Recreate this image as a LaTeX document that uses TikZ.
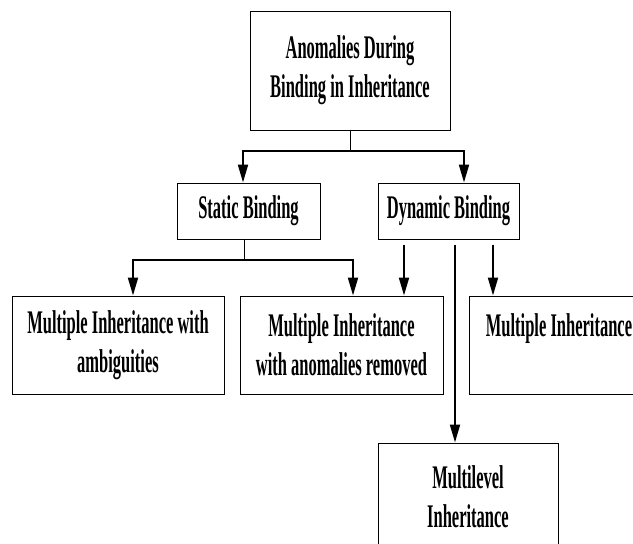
\documentclass[tikz,border=0pt]{standalone}
\usepackage{fontspec}
\setmainfont[FakeStretch=0.5]{Liberation Serif}
\usepackage{tikz}
\usetikzlibrary{arrows.meta, positioning, calc}

\begin{document}
\begin{tikzpicture}[x=1pt, y=-1pt, node distance=50pt, thick,
    box/.style={draw, rectangle, line width=1pt, inner sep=0pt, align=center, font=\fontsize{33}{39}\selectfont\bfseries},
    arrowline/.style={line width=2pt, -{Triangle[length=18pt,width=10pt]}},
    stem/.style={line width=0.8pt}]
    \useasboundingbox (0,0) rectangle (633,544);
    % Nodes
    \node (anomalies) [box, minimum width=200pt, minimum height=119pt] at (350,70.5) {Anomalies During\\Binding in Inheritance};
    \node (static) [box, minimum width=143pt, minimum height=56pt, below=52pt of anomalies, xshift=-101.5pt] {Static Binding};
    \node (dynamic) [box, minimum width=141pt, minimum height=56pt, right=57pt of static] {Dynamic Binding};
    \node (ambig) [box, minimum width=212pt, minimum height=98pt, below=56pt of static, xshift=-130.5pt] {Multiple Inheritance with\\ambiguities};
    \node (removed) [box, minimum width=203pt, minimum height=98pt, right=15pt of ambig] {Multiple Inheritance\\with anomalies removed};
    \node (multiple) [box, minimum width=180pt, minimum height=98pt, right=25pt of removed] {Multiple Inheritance\\\mbox{}};
    \node (multilevel) [box, minimum width=180pt, minimum height=108pt, below=48pt of removed, xshift=126.5pt] {Multilevel\\Inheritance};

    % Split points
    \coordinate [below=20pt of anomalies] (split1);
    \coordinate [below=20pt of static, xshift=-4.5pt] (split2);
    \coordinate (dynleft) at ([xshift=-44.5pt]dynamic.south);
    \coordinate (dynmid) at ([xshift=6.5pt]dynamic.south);
    \coordinate (dynright) at ([xshift=44.5pt]dynamic.south);

    % Connectors
    \draw[stem] (anomalies.south) -- (split1);
    \draw[arrowline] (split1) -| ([xshift=-5.5pt]static.north);
    \draw[arrowline] (split1) -| ([xshift=15.5pt]dynamic.north);
    \draw[stem] ([xshift=-4.5pt]static.south) -- (split2);
    \draw[arrowline] (split2) -| ([xshift=15pt]ambig.north);
    \draw[arrowline] (split2) -| ([xshift=11.5pt]removed.north);
    \draw[arrowline, shorten <=5pt] (dynleft) -- (dynleft |- removed.north);
    \draw[arrowline, shorten <=5pt] (dynmid) -- (dynmid |- multilevel.north);
    \draw[arrowline, shorten <=5pt] (dynright) -- (dynright |- multiple.north);
\end{tikzpicture}
\end{document}
